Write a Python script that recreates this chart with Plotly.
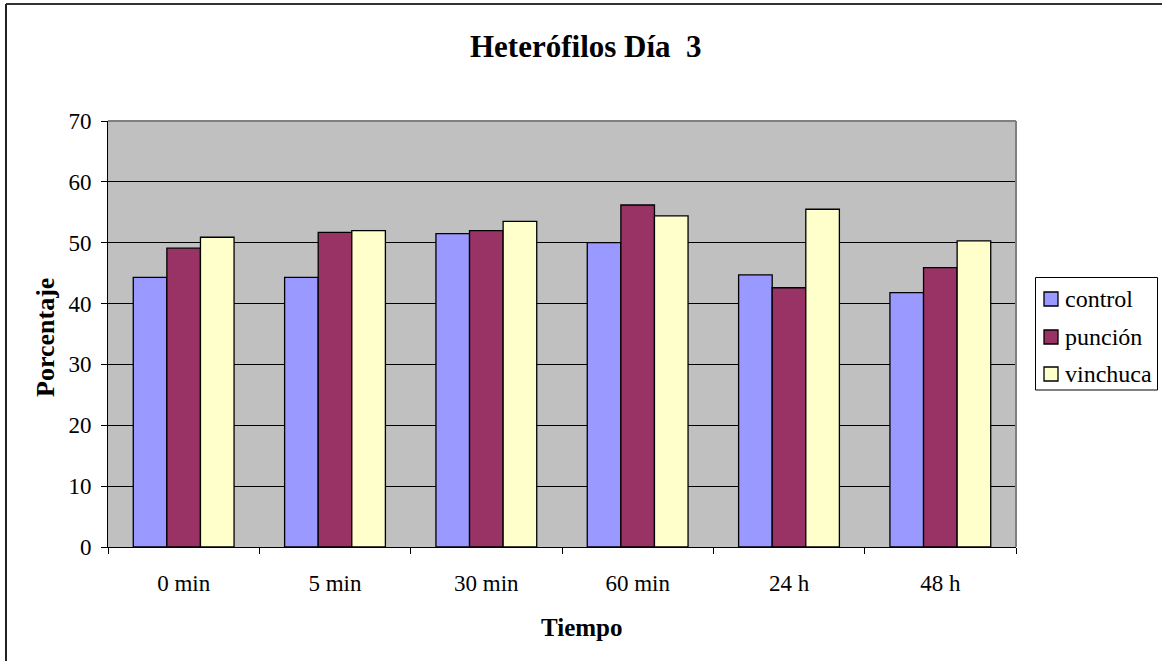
import plotly.graph_objects as go

tiempos = ["0 min", "5 min", "30 min", "60 min", "24 h", "48 h"]
control = [44.3, 44.3, 51.5, 50.0, 44.7, 41.8]
puncion = [49.1, 51.7, 52.0, 56.2, 42.6, 45.9]
vinchuca = [50.9, 52.0, 53.5, 54.4, 55.5, 50.3]

series = [
    ("control", control, "#9999FF"),
    ("punción", puncion, "#993366"),
    ("vinchuca", vinchuca, "#FFFFCC"),
]

FONT = "Liberation Serif"

fig = go.Figure()
for name, vals, color in series:
    fig.add_trace(go.Bar(
        name=name, x=tiempos, y=vals,
        marker=dict(color=color, line=dict(color="#000000", width=1.3)),
    ))

L, R, T, B = 108, 146, 121, 114
W, H = 1162, 661
PW, PH = W - L - R, H - T - B


def px(x):
    """Pixel x -> paper coordinate."""
    return (x - L) / PW


def py(y):
    """Pixel y (from top) -> paper coordinate."""
    return 1 - (y - T) / PH


shapes = [
    # gray frame on top and right of plot area
    dict(type="line", xref="paper", yref="paper", x0=0, x1=1, y0=1, y1=1,
         line=dict(color="#808080", width=2), layer="above"),
    dict(type="line", xref="paper", yref="paper", x0=1, x1=1, y0=0, y1=1,
         line=dict(color="#808080", width=2), layer="above"),
    # chart frame: top and left edges
    dict(type="line", xref="paper", yref="paper",
         x0=px(6), x1=px(W), y0=py(4), y1=py(4),
         line=dict(color="#333333", width=2)),
    dict(type="line", xref="paper", yref="paper",
         x0=px(6), x1=px(6), y0=py(H), y1=py(4),
         line=dict(color="#222222", width=2)),
    # legend box
    dict(type="rect", xref="paper", yref="paper",
         x0=px(1035.5), x1=px(1157.5), y0=py(277.5), y1=py(390),
         line=dict(color="#000000", width=1), fillcolor="#FFFFFF"),
]

annotations = [
    dict(text="<b>Heterófilos Día  3</b>", xref="paper", yref="paper",
         x=px(586), y=py(47), xanchor="center", yanchor="middle",
         showarrow=False, font=dict(family=FONT, size=31)),
    dict(text="<b>Tiempo</b>", xref="paper", yref="paper",
         x=px(582), y=py(627), xanchor="center", yanchor="middle",
         showarrow=False, font=dict(family=FONT, size=25)),
    dict(text="<b>Porcentaje</b>", xref="paper", yref="paper",
         x=px(45), y=py(338), textangle=-90, xanchor="center", yanchor="middle",
         showarrow=False, font=dict(family=FONT, size=26)),
]

# legend entries: swatch + label for each series
row_centers = [299, 337, 374]
for (name, _, color), cy in zip(series, row_centers):
    shapes.append(dict(
        type="rect", xref="paper", yref="paper",
        x0=px(1044), x1=px(1058), y0=py(cy - 7), y1=py(cy + 7),
        line=dict(color="#000000", width=1.3), fillcolor=color,
    ))
    annotations.append(dict(
        text=name, xref="paper", yref="paper",
        x=px(1063), y=py(cy), xanchor="left", yanchor="middle",
        showarrow=False, font=dict(family=FONT, size=24),
    ))

fig.update_layout(
    width=W, height=H,
    margin=dict(l=L, r=R, t=T, b=B),
    paper_bgcolor="#FFFFFF",
    plot_bgcolor="#C0C0C0",
    barmode="group",
    bargap=0.334,
    bargroupgap=0,
    font=dict(family=FONT, size=23, color="#000000"),
    showlegend=False,
    xaxis=dict(
        type="category",
        showline=True, linecolor="#000000", linewidth=1,
        ticks="outside", ticklen=6, tickcolor="#000000",
        tickson="boundaries",
        ticklabelstandoff=15,
        showgrid=False, zeroline=False,
        tickfont=dict(family=FONT, size=23),
    ),
    yaxis=dict(
        range=[0, 70], dtick=10,
        showline=True, linecolor="#000000", linewidth=1,
        ticks="outside", ticklen=6, tickcolor="#000000",
        ticklabelstandoff=5,
        showgrid=True, gridcolor="#000000", gridwidth=1,
        zeroline=False,
        tickfont=dict(family=FONT, size=23),
    ),
    shapes=shapes,
    annotations=annotations,
)

fig.write_html("out.html")
